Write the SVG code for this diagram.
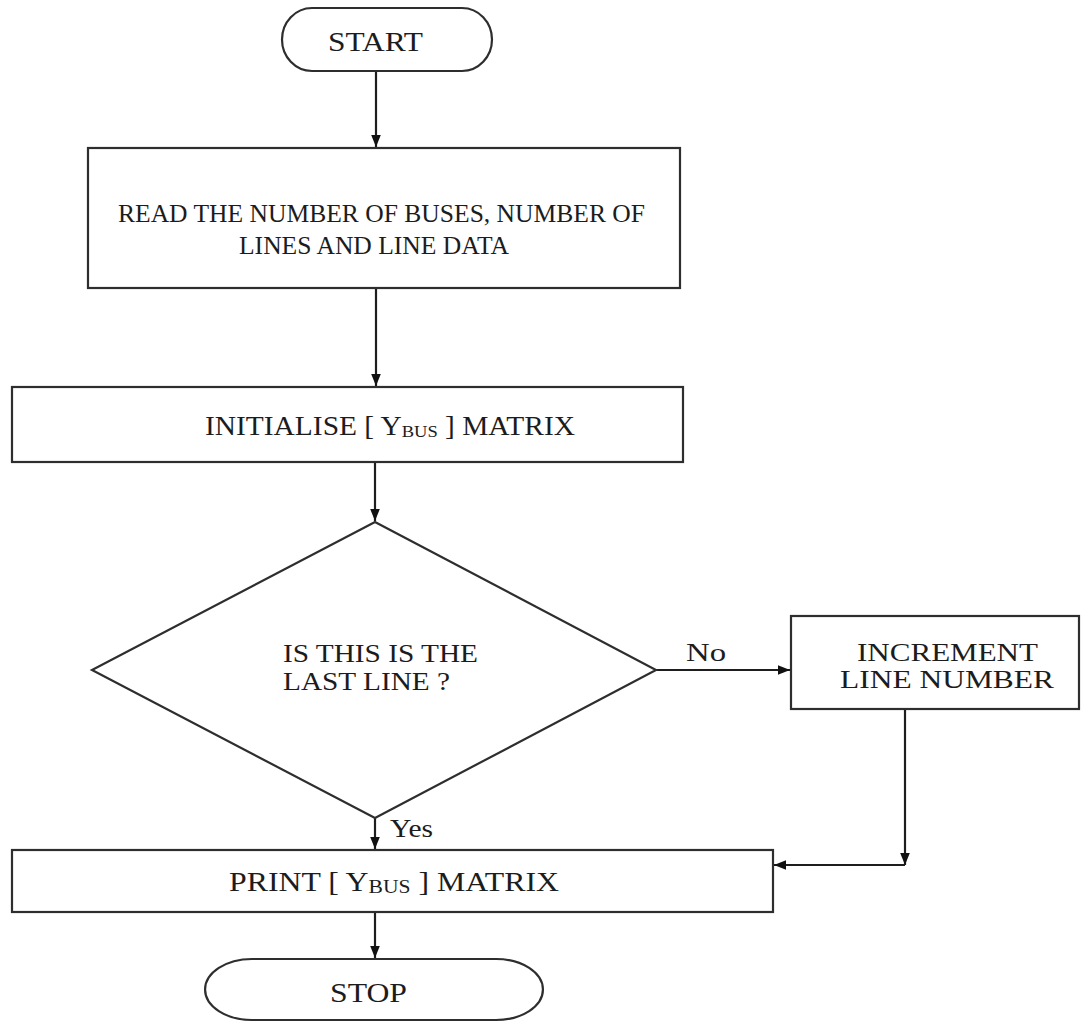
<svg xmlns="http://www.w3.org/2000/svg" width="1081" height="1022" viewBox="0 0 1081 1022">
  <style>
    .shape { fill: #ffffff; stroke: #2e2e2e; stroke-width: 2.2; }
    .conn { fill: none; stroke: #1e1e1e; stroke-width: 2.2; }
    .t { font-family: "Liberation Serif", "Times New Roman", serif; font-size: 26px; fill: #1c1c1c; }
    .sub { font-size: 17px; }
  </style>
  <defs>
    <marker id="ah" viewBox="0 0 10 10" refX="10" refY="5" markerWidth="12" markerHeight="12" markerUnits="userSpaceOnUse" orient="auto">
      <path d="M0,1 L10,5 L0,9 z" fill="#111111"/>
    </marker>
  </defs>
  <rect width="1081" height="1022" fill="#ffffff"/>

  <g id="connectors">
    <line class="conn" x1="376" y1="71" x2="376" y2="147" marker-end="url(#ah)"/>
    <line class="conn" x1="376" y1="288" x2="376" y2="386" marker-end="url(#ah)"/>
    <line class="conn" x1="375" y1="462" x2="375" y2="521" marker-end="url(#ah)"/>
    <line class="conn" x1="656" y1="670" x2="790" y2="670" marker-end="url(#ah)"/>
    <line class="conn" x1="375" y1="818" x2="375" y2="849" marker-end="url(#ah)"/>
    <line class="conn" x1="905" y1="709" x2="905" y2="865" marker-end="url(#ah)"/>
    <line class="conn" x1="905" y1="865" x2="774" y2="865" marker-end="url(#ah)"/>
    <line class="conn" x1="375" y1="912" x2="375" y2="958" marker-end="url(#ah)"/>
    <text class="t" x="686" y="661" textLength="40" lengthAdjust="spacingAndGlyphs">No</text>
    <text class="t" x="390" y="837" textLength="43" lengthAdjust="spacingAndGlyphs">Yes</text>
  </g>

  <g id="start">
    <path class="shape" d="M312,8 H462 A30,31.5 0 0 1 462,71 H312 A30,31.5 0 0 1 312,8 Z"/>
    <text class="t" x="328" y="51" style="font-size:28px" textLength="95" lengthAdjust="spacingAndGlyphs">START</text>
  </g>

  <g id="read">
    <rect class="shape" x="88" y="148" width="592" height="140"/>
    <text class="t" x="118" y="222" textLength="527" lengthAdjust="spacingAndGlyphs">READ THE NUMBER OF BUSES, NUMBER OF</text>
    <text class="t" x="239" y="254" textLength="270" lengthAdjust="spacingAndGlyphs">LINES AND LINE DATA</text>
  </g>

  <g id="initialise">
    <rect class="shape" x="12" y="387" width="671" height="75"/>
    <text class="t" x="205" y="435" style="font-size:27px" textLength="370" lengthAdjust="spacingAndGlyphs">INITIALISE [ Y<tspan class="sub" dy="2">BUS</tspan><tspan dy="-2"> ] MATRIX</tspan></text>
  </g>

  <g id="decision">
    <polygon class="shape" points="375,522 656,670 375,818 92,670"/>
    <text class="t" x="283" y="662" style="font-size:25px" textLength="195" lengthAdjust="spacingAndGlyphs">IS THIS IS THE</text>
    <text class="t" x="283" y="690" style="font-size:25px" textLength="167" lengthAdjust="spacingAndGlyphs">LAST LINE ?</text>
  </g>

  <g id="increment">
    <rect class="shape" x="791" y="616" width="288" height="93"/>
    <text class="t" x="857" y="661" textLength="181" lengthAdjust="spacingAndGlyphs">INCREMENT</text>
    <text class="t" x="840" y="688" textLength="214" lengthAdjust="spacingAndGlyphs">LINE NUMBER</text>
  </g>

  <g id="print">
    <rect class="shape" x="12" y="850" width="761" height="62"/>
    <text class="t" x="229" y="891" style="font-size:28px" textLength="330" lengthAdjust="spacingAndGlyphs">PRINT [ Y<tspan class="sub" dy="2" style="font-size:19px">BUS</tspan><tspan dy="-2"> ] MATRIX</tspan></text>
  </g>

  <g id="stop">
    <path class="shape" d="M252,959 H496 A47,30.5 0 0 1 496,1020 H252 A47,30.5 0 0 1 252,959 Z"/>
    <text class="t" x="330" y="1002" style="font-size:28px" textLength="77" lengthAdjust="spacingAndGlyphs">STOP</text>
  </g>
</svg>
